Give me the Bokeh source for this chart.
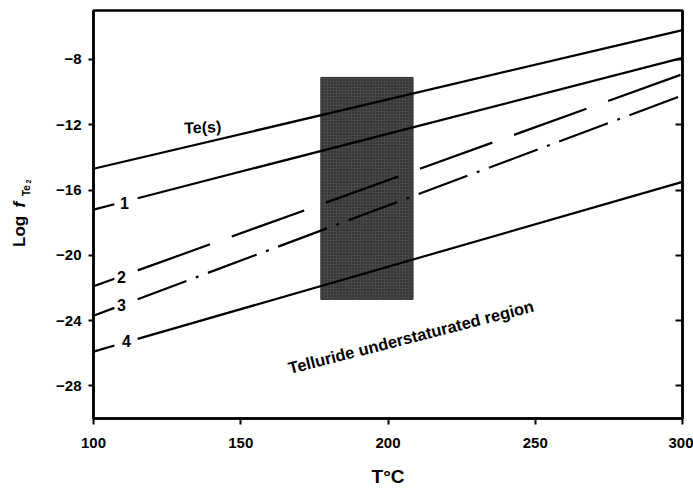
import numpy as np
from bokeh.plotting import figure
from bokeh.layouts import row
from bokeh.models import Range1d, LinearAxis, FixedTicker, Label
from bokeh.embed import file_html
from bokeh.resources import INLINE

# ---- data ----
x_ends = [100, 300]                 # temperature (deg C) at the ends of each line
te_s_line = [-14.7, -6.2]           # Te(s)
line1 = [-17.2, -7.9]
line2 = [-21.9, -8.9]
line3 = [-23.7, -10.2]
line4 = [-25.9, -15.5]
box_x = [177.2, 208.5]              # shaded T range
box_y = [-22.7, -9.1]               # shaded log fTe2 range
x_ticks = [100, 150, 200, 250, 300]
y_ticks = [-28, -24, -20, -16, -12, -8]
line_labels = ["1", "2", "3", "4"]

FONT = "Liberation Sans"
W_LEFT = 45          # strip holding the rotated y-axis title
W, H = 693, 489
TOP, BOTTOM = 10, 69  # frame borders (the row aligns both frames)

# ---- left strip for the y title (pixel coordinates; page y = H - y) ----
lf = figure(width=W_LEFT, height=H, x_range=Range1d(0, W_LEFT),
            y_range=Range1d(BOTTOM, H - TOP),
            output_backend="svg", toolbar_location=None, min_border=0,
            min_border_top=TOP, min_border_bottom=BOTTOM,
            x_axis_location=None, y_axis_location=None)
lf.grid.visible = False
lf.outline_line_color = None
lf.background_fill_color = "white"
lf.border_fill_color = "white"

def lab(fig, text, x, y, size, angle=0.0, style="bold", align="center", baseline="middle"):
    fig.add_layout(Label(x=x, y=y, text=text, text_font=FONT, text_font_style=style,
                         text_font_size=size, text_color="black", angle=angle,
                         text_align=align, text_baseline=baseline))

R = np.pi / 2
def ylab(text, px, py, size, style="bold"):
    # centred, so the rotation pivot is the text's own centre
    lab(lf, text, px, H - py, size, angle=R, style=style)

ylab("Log", 19, 232, "17px")
ylab("f", 19, 205, "17px", style="bold italic")
ylab("Te", 25.5, 191, "10px")
ylab("2", 28, 182, "7px")

# ---- main chart ----
p = figure(width=W - W_LEFT, height=H, x_range=Range1d(100, 300), y_range=Range1d(-30, -5),
           output_backend="svg", toolbar_location=None,
           min_border_left=93 - W_LEFT, min_border_right=11, min_border_top=TOP,
           min_border_bottom=BOTTOM)
p.grid.visible = False
p.outline_line_color = "black"
p.outline_line_width = 2.5
p.background_fill_color = "white"
p.border_fill_color = "white"

def style_axis(ax, ticks, tick_in, tick_out, labels=True, standoff=8):
    ax.ticker = FixedTicker(ticks=ticks)
    ax.minor_tick_line_color = None
    ax.major_tick_in = tick_in
    ax.major_tick_out = tick_out
    ax.major_tick_line_width = 2
    ax.major_tick_line_color = "black"
    ax.axis_line_width = 2.5
    ax.axis_line_color = "black"
    ax.major_label_standoff = standoff
    ax.major_label_text_font = FONT
    ax.major_label_text_font_style = "bold"
    ax.major_label_text_font_size = "15px"
    ax.major_label_text_color = "black"
    if not labels:
        ax.major_label_overrides = {t: "" for t in ticks}
        ax.major_label_standoff = 0

style_axis(p.yaxis[0], y_ticks, 0, 5, standoff=7)
style_axis(p.xaxis[0], x_ticks, 0, 6, standoff=13)
p.xaxis[0].axis_label = "T\u00b0C"
p.xaxis[0].axis_label_text_font = FONT
p.xaxis[0].axis_label_text_font_style = "bold"
p.xaxis[0].axis_label_text_font_size = "19px"
p.xaxis[0].axis_label_text_color = "black"
p.xaxis[0].axis_label_standoff = 15
right_ax = LinearAxis()
style_axis(right_ax, y_ticks, 7, 0, labels=False)
p.add_layout(right_ax, "right")

# shaded box
p.quad(left=[box_x[0]], right=[box_x[1]], bottom=[box_y[0]], top=[box_y[1]],
       fill_color="#484848", line_color="#2e2e2e", line_width=1,
       hatch_pattern="dot", hatch_color="#1a1a1a", hatch_scale=3, hatch_weight=1)

def yv(ends, x):
    return float(np.interp(x, x_ends, ends))

LW = 2.2
p.line(x_ends, te_s_line, line_color="black", line_width=LW)

stub_end, main_start = 107.1, 115.0
styles = [("solid", line1), ("77 23", line2), ("52 10 3 10", line3), ("solid", line4)]
for dash, ends in styles:
    p.line([x_ends[0], stub_end], [ends[0], yv(ends, stub_end)], line_color="black", line_width=LW)
    p.line([main_start, x_ends[1]], [yv(ends, main_start), ends[1]], line_color="black",
           line_width=LW, line_dash=dash)

lab(p, "Te(s)", 137.1, -12.16, "16px", angle=0.05)
label_pos = [(110.5, -16.8), (109.5, -21.33), (109.5, -23.05), (111.2, -25.25)]
for t, (lx, ly) in zip(line_labels, label_pos):
    lab(p, t, lx, ly, "16px")

lab(p, "Telluride understaturated region", 207.8, -25.0, "16.5px", angle=0.251)

layout = row(lf, p, spacing=0)
open("out.html", "w").write(file_html(layout, INLINE))
